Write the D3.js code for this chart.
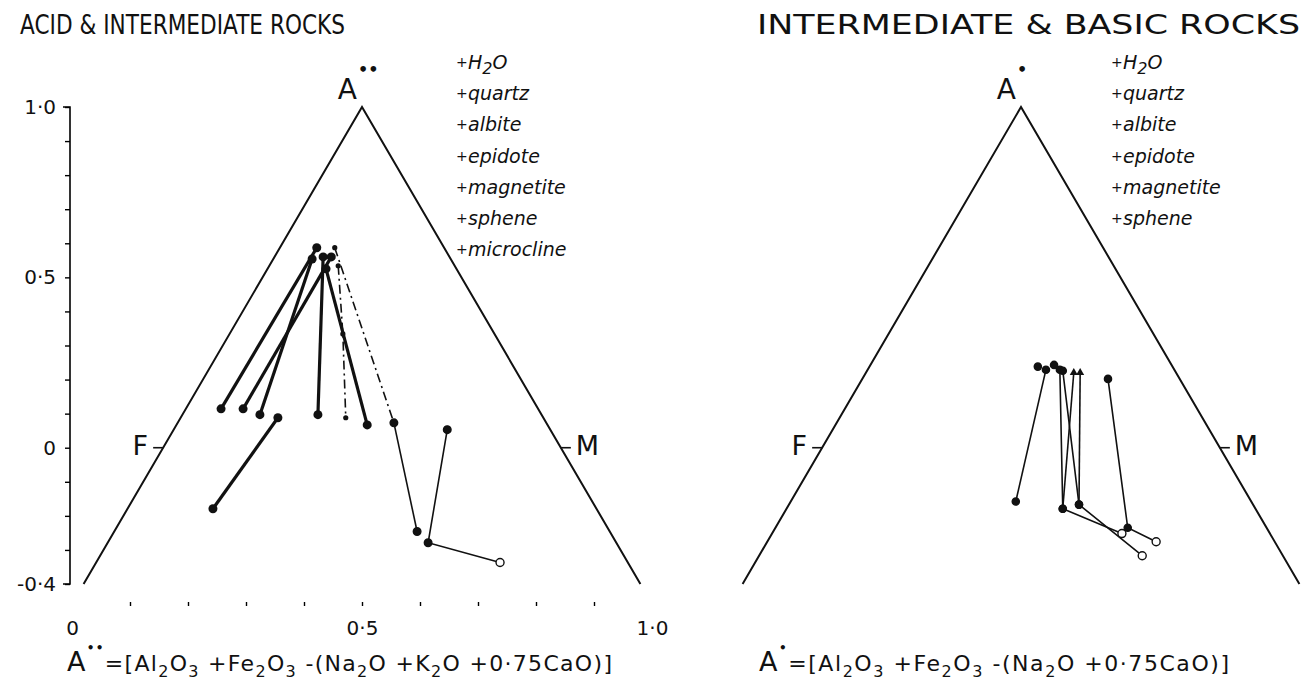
<!DOCTYPE html>
<html><head><meta charset="utf-8">
<script src="https://cdn.jsdelivr.net/npm/d3@7"></script>
<style>
body{margin:0;background:#fff}
svg text{font-family:"DejaVu Sans",sans-serif;fill:#111}
</style></head><body>
<svg id="chart" width="1307" height="687"></svg>
<script>
// ---- diagram values: x runs along the base (0..1), y is the A value ----
const yTickValues = [1.0, 0.5, 0, -0.4];
const xTickValues = [0, 0.5, 1.0];
const triangleCorners = [[0.02, -0.4], [0.5, 1.0], [0.98, -0.4]];

const acidMinerals = ["H2O", "quartz", "albite", "epidote", "magnetite", "sphene", "microcline"];
const basicMinerals = ["H2O", "quartz", "albite", "epidote", "magnetite", "sphene"];

// acid & intermediate rocks: heavy tie lines
const acidHeavy = [
  [[0.422, 0.587], [0.257, 0.114]],
  [[0.447, 0.560], [0.295, 0.114]],
  [[0.414, 0.554], [0.324, 0.097]],
  [[0.433, 0.560], [0.424, 0.097]],
  [[0.438, 0.525], [0.509, 0.067]],
  [[0.355, 0.088], [0.243, -0.179]]
];
// dash-dot tie lines
const acidDashed = [
  [[0.453, 0.587], [0.555, 0.073]],
  [[0.459, 0.534], [0.467, 0.334], [0.472, 0.088]]
];
// thin tie lines
const acidThin = [
  [[0.555, 0.073], [0.595, -0.246]],
  [[0.647, 0.053], [0.614, -0.279], [0.738, -0.337]]
];
const acidOpen = [[0.738, -0.337]];

// intermediate & basic rocks
const basicThin = [
  [[0.543, 0.229], [0.491, -0.158]],
  [[0.567, 0.229], [0.572, -0.179], [0.674, -0.252]],
  [[0.591, 0.220], [0.572, -0.179]],
  [[0.572, 0.226], [0.600, -0.167], [0.709, -0.317]],
  [[0.602, 0.220], [0.600, -0.167]],
  [[0.650, 0.202], [0.684, -0.235], [0.733, -0.276]]
];
const basicSingles = [[0.529, 0.238], [0.557, 0.243]];
const basicTriangles = [[0.591, 0.220], [0.602, 0.220]];
const basicOpen = [[0.674, -0.252], [0.709, -0.317], [0.733, -0.276]];

// ---- layout ----
const svg = d3.select("#chart");
const y = d3.scaleLinear().domain([-0.4, 1.0]).range([584, 107]);
const xLeft = d3.scaleLinear().domain([0, 1]).range([72, 652]);
const xRight = d3.scaleLinear().domain([0, 1]).range([731, 1311]);
const fmt = d => d === 0 ? "0" : d3.format(".1f")(d).replace(".", "\u00b7").replace("\u2212", "-");

function drawTriangle(g, x) {
  const line = d3.line().x(d => x(d[0])).y(d => y(d[1]));
  g.append("path").attr("d", line(triangleCorners))
    .attr("fill", "none").attr("stroke", "#111").attr("stroke-width", 2);
  // F and M ticks at A = 0
  const t = 1 / 1.4, fx = 0.5 - 0.48 * t, mx = 0.5 + 0.48 * t;
  g.append("line").attr("x1", x(fx) - 10).attr("x2", x(fx)).attr("y1", y(0)).attr("y2", y(0))
    .attr("stroke", "#111").attr("stroke-width", 1.6);
  g.append("line").attr("x1", x(mx)).attr("x2", x(mx) + 10).attr("y1", y(0)).attr("y2", y(0))
    .attr("stroke", "#111").attr("stroke-width", 1.6);
  g.append("text").attr("x", x(fx) - 15).attr("y", y(0) + 7).attr("text-anchor", "end")
    .attr("font-size", 27).text("F");
  g.append("text").attr("x", x(mx) + 15).attr("y", y(0) + 7)
    .attr("font-size", 27).text("M");
}

function drawLegend(g, x0, items) {
  items.forEach((m, i) => {
    g.append("text").attr("x", x0).attr("y", 67 + i * 31.2).attr("font-size", 14).text("+");
    const t = g.append("text").attr("x", x0 + 12).attr("y", 69 + i * 31.2)
      .attr("font-size", 19).attr("font-style", "italic");
    if (m === "H2O") {
      t.append("tspan").text("H");
      t.append("tspan").text("2").attr("dy", 5).attr("font-size", 16);
      t.append("tspan").text("O").attr("dy", -5);
    } else t.append("tspan").text(m);
  });
}

function apexLabel(g, x, dots) {
  g.append("text").attr("x", x(0.5) - 5).attr("y", y(1.0) - 8).attr("text-anchor", "end")
    .attr("font-size", 28).text("A");
  g.append("text").attr("x", x(0.5) - 4).attr("y", y(1.0) - 32)
    .attr("font-size", 16).attr("font-weight", "bold").text(dots);
}

function formula(x0, y0, width, dots, parts) {
  const t = svg.append("text").attr("x", x0).attr("y", y0).attr("font-size", 22)
    .attr("textLength", width).attr("lengthAdjust", "spacing");
  t.append("tspan").text("A").attr("font-size", 27);
  t.append("tspan").text(dots).attr("dy", -19).attr("font-size", 12).attr("font-weight", "bold");
  let shift = -19;
  parts.forEach(p => {
    const s = p.sub ? 6 : 0;
    t.append("tspan").text(p.t).attr("dy", s - shift).attr("font-size", p.sub ? 16 : 22);
    shift = s;
  });
}

// ---- left panel: acid & intermediate ----
const gl = svg.append("g");
svg.append("text").attr("x", 20).attr("y", 34).attr("font-size", 27)
  .attr("textLength", 325).attr("lengthAdjust", "spacingAndGlyphs").text("ACID & INTERMEDIATE ROCKS");

const yAxis = d3.axisLeft(y).tickValues(d3.range(-4, 11).map(d => d / 10))
  .tickSize(5).tickFormat(d => yTickValues.some(v => Math.abs(v - d) < 1e-9) ? fmt(d) : "");
const ya = gl.append("g").attr("transform", "translate(70,0)").call(yAxis);
ya.select(".domain").attr("stroke-width", 1.6).attr("d", "M-7,107H0V584H-7");
ya.selectAll("line").attr("stroke-width", 1.4);
ya.selectAll("text").attr("font-size", 20).attr("font-family", "DejaVu Sans").attr("dx", -6).attr("fill", "#111");

const xAxis = d3.axisBottom(xLeft).tickValues(d3.range(0, 11).map(d => d / 10))
  .tickSize(4).tickFormat(d => xTickValues.some(v => Math.abs(v - d) < 1e-9) ? fmt(d) : "");
const xa = gl.append("g").attr("transform", "translate(0,602)").call(xAxis);
xa.select(".domain").attr("stroke-width", 1.6).attr("d", "M68,608Q70,600 76,600H648Q654,600 656,608");
xa.selectAll(".tick line").attr("stroke-width", 1.4).filter(d => d === 0 || d === 1).remove();
xa.selectAll("text").attr("font-size", 20).attr("font-family", "DejaVu Sans").attr("dy", "1.3em").attr("fill", "#111");

drawTriangle(gl, xLeft);
apexLabel(gl, xLeft, "\u2022\u2022");
drawLegend(gl, 456, acidMinerals);

const lineL = d3.line().x(d => xLeft(d[0])).y(d => y(d[1]));
gl.selectAll(".heavy").data(acidHeavy).join("path").attr("d", lineL)
  .attr("fill", "none").attr("stroke", "#111").attr("stroke-width", 3.2);
gl.selectAll(".dash").data(acidDashed).join("path").attr("d", lineL)
  .attr("fill", "none").attr("stroke", "#111").attr("stroke-width", 1.6).attr("stroke-dasharray", "9,4,2,4");
gl.selectAll(".thin").data(acidThin).join("path").attr("d", lineL)
  .attr("fill", "none").attr("stroke", "#111").attr("stroke-width", 1.6);
const isOpen = (arr, p) => arr.some(q => q[0] === p[0] && q[1] === p[1]);
acidHeavy.flat().forEach(p => gl.append("circle").attr("cx", xLeft(p[0])).attr("cy", y(p[1])).attr("r", 4.5).attr("fill", "#111"));
acidDashed.flat().forEach(p => gl.append("circle").attr("cx", xLeft(p[0])).attr("cy", y(p[1])).attr("r", 2.6).attr("fill", "#111"));
acidThin.flat().forEach(p => {
  const o = isOpen(acidOpen, p);
  gl.append("circle").attr("cx", xLeft(p[0])).attr("cy", y(p[1])).attr("r", o ? 4 : 3.8)
    .attr("fill", o ? "#fff" : "#111").attr("stroke", "#111").attr("stroke-width", 1.4);
});

formula(67, 671, 545, "\u2022\u2022", [
  { t: "=[Al" }, { t: "2", sub: 1 }, { t: "O" }, { t: "3", sub: 1 }, { t: " +Fe" }, { t: "2", sub: 1 },
  { t: "O" }, { t: "3", sub: 1 }, { t: " -(Na" }, { t: "2", sub: 1 }, { t: "O +K" }, { t: "2", sub: 1 },
  { t: "O +0\u00b775CaO)]" }
]);

// ---- right panel: intermediate & basic ----
const gr = svg.append("g");
svg.append("text").attr("x", 757).attr("y", 34).attr("font-size", 27)
  .attr("textLength", 543).attr("lengthAdjust", "spacingAndGlyphs").text("INTERMEDIATE & BASIC ROCKS");
drawTriangle(gr, xRight);
apexLabel(gr, xRight, "\u2022");
drawLegend(gr, xRight(0.5) + 90, basicMinerals);

const lineR = d3.line().x(d => xRight(d[0])).y(d => y(d[1]));
gr.selectAll(".thin").data(basicThin).join("path").attr("d", lineR)
  .attr("fill", "none").attr("stroke", "#111").attr("stroke-width", 1.6);
const triSym = d3.symbol().type(d3.symbolTriangle).size(28);
basicThin.flat().concat(basicSingles).forEach(p => {
  if (isOpen(basicTriangles, p)) {
    gr.append("path").attr("d", triSym()).attr("transform", `translate(${xRight(p[0])},${y(p[1])})`).attr("fill", "#111");
    return;
  }
  const o = isOpen(basicOpen, p);
  gr.append("circle").attr("cx", xRight(p[0])).attr("cy", y(p[1])).attr("r", o ? 4 : 3.6)
    .attr("fill", o ? "#fff" : "#111").attr("stroke", "#111").attr("stroke-width", 1.4);
});

formula(759, 671, 470, "\u2022", [
  { t: "=[Al" }, { t: "2", sub: 1 }, { t: "O" }, { t: "3", sub: 1 }, { t: " +Fe" }, { t: "2", sub: 1 },
  { t: "O" }, { t: "3", sub: 1 }, { t: " -(Na" }, { t: "2", sub: 1 }, { t: "O  +0\u00b775CaO)]" }
]);
</script>
</body></html>
